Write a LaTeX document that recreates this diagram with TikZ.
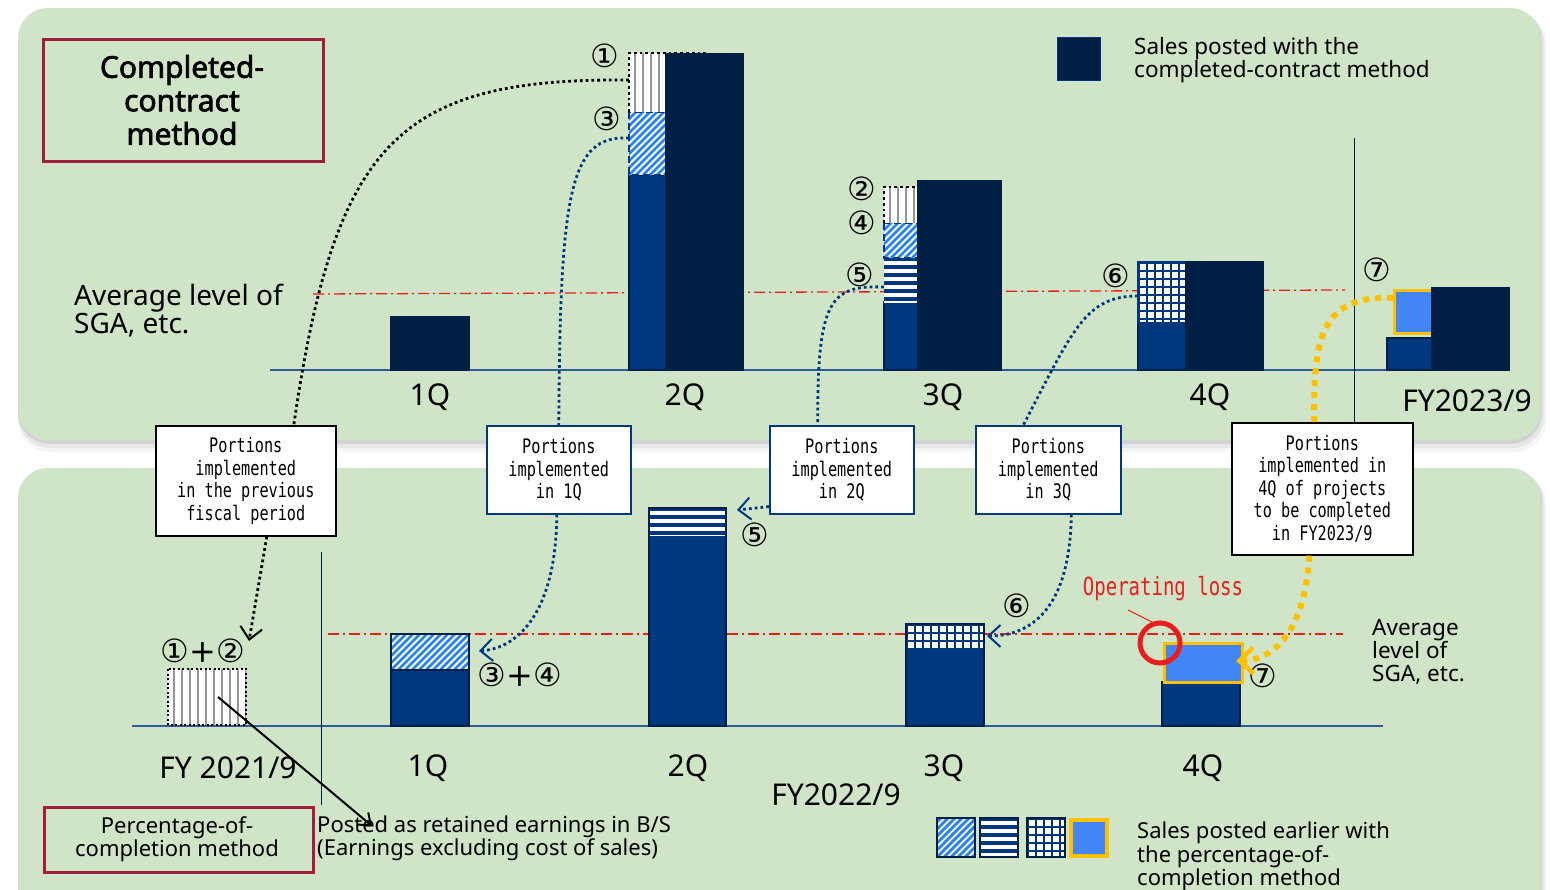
\documentclass[tikz,border=0pt]{standalone}
\usepackage{fontspec}
\setmainfont{Noto Sans}
\newfontfamily\tfont[FakeBold=2.2]{Noto Sans}
\newfontfamily\cfont{DejaVu Sans}
\newfontfamily\mfont[FakeStretch=0.76]{DejaVu Sans Mono}
\usetikzlibrary{arrows.meta}
\definecolor{navyD}{RGB}{0,31,68}
\definecolor{blueM}{RGB}{0,56,128}
\definecolor{lightB}{RGB}{66,133,244}
\definecolor{yel}{RGB}{255,192,0}
\definecolor{hatchblue}{RGB}{40,130,240}
\definecolor{stripegray}{RGB}{150,150,150}
\definecolor{panel}{RGB}{208,229,199}
\definecolor{redL}{RGB}{230,30,30}
\definecolor{darkred}{RGB}{160,30,60}
\definecolor{axisC}{RGB}{50,90,150}
\newcommand\vstripes[4]{%
 \begin{scope}
 \clip (#1,#2) rectangle (#3,#4);
 \fill[white] (#1,#2) rectangle (#3,#4);
 \foreach \i in {1,...,12}{\draw[stripegray, line width=1.6] ({#1+\i*8-2},#2) -- ({#1+\i*8-2},#4);}
 \end{scope}}
\newcommand\hatchd[4]{%
 \begin{scope}
 \clip (#1,#2) rectangle (#3,#4);
 \fill[white] (#1,#2) rectangle (#3,#4);
 \foreach \i in {-16,...,16}{\draw[hatchblue, line width=2.8] ({#1+\i*7},#4) -- ++(90,-90);}
 \end{scope}}
\newcommand\hstripes[4]{%
 \begin{scope}
 \clip (#1,#2) rectangle (#3,#4);
 \fill[blueM] (#1,#2) rectangle (#3,#4);
 \foreach \i in {0,...,8}{\draw[white, line width=3.5] (#1,{#2+5+\i*8}) -- (#3,{#2+5+\i*8});}
 \end{scope}}
\newcommand\gridp[4]{%
 \begin{scope}
 \clip (#1,#2) rectangle (#3,#4);
 \fill[white] (#1,#2) rectangle (#3,#4);
 \foreach \i in {0,...,12}{\draw[blueM, line width=2.2] ({#1+1+\i*8},#2) -- ({#1+1+\i*8},#4);
   \draw[blueM, line width=2.2] (#1,{#2+1+\i*8}) -- (#3,{#2+1+\i*8});}
 \end{scope}}
\tikzset{
  lbl/.style={font=\fontsize{30}{30}\selectfont, inner sep=0pt},
  sml/.style={font=\fontsize{22.5}{23}\selectfont, inner sep=0pt, align=left},
  circ/.style={font=\cfont\fontsize{32}{32}\selectfont, inner sep=0pt},
  pbox/.style={draw=black, line width=1.6pt, fill=white, font=\mfont\fontsize{20}{22.5}\selectfont,
     align=center, inner sep=0pt, anchor=north west},
  barb/.style={draw=navyD, line width=1.5pt},
  sgaline/.style={redL, line width=1.3pt, dash pattern=on 11pt off 4pt on 2pt off 4pt},
  dotk/.style={black, line width=2.8pt, dash pattern=on 2.8pt off 3pt},
  dotb/.style={blueM, line width=2.8pt, dash pattern=on 2.8pt off 3pt},
  doty/.style={yel, line width=6pt, dash pattern=on 6pt off 6pt},
  tipk/.style={-{Straight Barb[length=12pt,width=22pt,line width=2pt]}},
  tipy/.style={-{Straight Barb[length=14pt,width=26pt,line width=4.5pt]}},
  axis/.style={axisC, line width=1.6pt},
}
\begin{document}
\begin{tikzpicture}[x=1pt,y=-1pt]
\useasboundingbox (0,0) rectangle (1550,889);
\fill[white] (0,0) rectangle (1550,889);
% panels with soft shadows
\foreach \k/\o in {12/0.04,8/0.06,4/0.08}{
  \fill[black, opacity=\o, rounded corners=32pt] (18,{8+\k/3}) rectangle ({1540+\k/2},{440+\k});
  \fill[black, opacity=\o, rounded corners=32pt] (18,{468+\k/3}) rectangle ({1540+\k/2},{940});
}
\fill[panel, rounded corners=30pt] (18,8) rectangle (1540,440);
\fill[panel, rounded corners=30pt] (18,468) rectangle (1540,940);

% ===== top panel =====
\node[draw=darkred, line width=3pt, minimum width=280pt, minimum height=122pt, anchor=north west,
      inner sep=0pt] (ccm) at (42,38) {};
\node[font=\tfont\fontsize{30}{33.5}\selectfont, align=center] (ccmt) at (182,100) {Completed-\\contract\\method};

\fill[navyD] (1057,37) rectangle (1100,80);
\draw[blueM, line width=1pt] (1057,37) rectangle (1100,80);
\node[sml, anchor=north west] (leg1) at (1134,37) {Sales posted with the\\completed-contract method};

\node[lbl, font=\fontsize{28}{28}\selectfont, anchor=west, align=left] (avg1) at (74,311) {Average level of\\SGA, etc.};

\draw[axis] (270,370) -- (1510,370);
\draw[navyD, line width=1pt] (1354,138) -- (1354,422);
\draw[sgaline] (313,294) -- (1345,290);

% 1Q
\filldraw[fill=navyD, barb] (391,317) rectangle (469,370);
% 2Q
\filldraw[fill=blueM, barb] (629,175) rectangle (666,370);
\hatchd{629}{112}{666}{175}
\draw[blueM, line width=2pt, dash pattern=on 7pt off 4pt] (629,112) rectangle (666,175);
\vstripes{629}{53}{666}{112}
\draw[dotk] (629,112) -- (629,53) -- (708,53);
\filldraw[fill=navyD, barb] (666,54) rectangle (743,370);
% 3Q
\filldraw[fill=blueM, barb] (884,302) rectangle (918,370);
\hstripes{884}{258}{918}{302}
\hatchd{884}{223}{918}{258}
\draw[blueM, line width=2pt, dash pattern=on 7pt off 4pt] (884,223) rectangle (918,258);
\vstripes{884}{187}{918}{223}
\draw[dotk] (884,223) -- (884,187) -- (918,187);
\filldraw[fill=navyD, barb] (918,181) rectangle (1001,370);
% 4Q
\filldraw[fill=blueM, barb] (1138,323) rectangle (1186,370);
\gridp{1138}{262}{1186}{323}
\draw[blueM, line width=1.5pt] (1138,262) rectangle (1186,323);
\filldraw[fill=navyD, barb] (1186,262) rectangle (1263,370);
% FY2023/9
\filldraw[fill=blueM, barb] (1387,338) rectangle (1432,370);
\filldraw[fill=lightB, draw=yel, line width=3pt] (1394,290) rectangle (1432,333);
\filldraw[fill=navyD, barb] (1432,288) rectangle (1509,370);

\node[lbl] (q1t) at (430,397) {1Q};
\node[lbl] (q2t) at (685,397) {2Q};
\node[lbl] (q3t) at (943,397) {3Q};
\node[lbl] (q4t) at (1210,397) {4Q};
\node[lbl] (fy23) at (1467,401) {FY2023/9};

\node[circ] (n1) at (605,56) {①};
\node[circ] (n3) at (607,119) {③};
\node[circ] (n2) at (862,189) {②};
\node[circ] (n4) at (862,223) {④};
\node[circ] (n5) at (860,275) {⑤};
\node[circ] (n6) at (1116,276) {⑥};
\node[circ] (n7) at (1377,270) {⑦};

% ===== bottom panel =====
\draw[axis] (132,726) -- (1383,726);
\draw[navyD, line width=1pt] (321,552) -- (321,805);
\draw[sgaline] (328,634) -- (1343,634);

\vstripes{168}{669}{246}{725}
\draw[dotk, line width=2pt, dash pattern=on 2pt off 2.5pt] (168,669) rectangle (246,725);
\filldraw[fill=blueM, barb] (391,670) rectangle (469,726);
\hatchd{391}{634}{469}{670}
\draw[barb] (391,634) rectangle (469,670);
\filldraw[fill=blueM, barb] (649,508) rectangle (726,726);
\hstripes{649}{508}{726}{535}
\draw[barb] (649,508) rectangle (726,726);
\filldraw[fill=blueM, barb] (906,624) rectangle (984,726);
\gridp{906}{624}{984}{650}
\draw[barb] (906,624) rectangle (984,726);
\filldraw[fill=blueM, barb] (1162,682) rectangle (1240,726);
\filldraw[fill=lightB, draw=yel, line width=3pt] (1164,643) rectangle (1242,682);

\node[circ] (n12) at (203,651) {①+②};
\node[circ] (n34) at (520,675) {③+④};
\node[circ] (m5) at (755,535) {⑤};
\node[circ] (m6) at (1017,606) {⑥};
\node[circ] (m7) at (1263,676) {⑦};

\draw[redL, line width=5pt] (1160,643) circle (20);
\draw[redL, line width=1pt] (1128,610) -- (1152,622);
\node[font=\mfont\fontsize{25}{27}\selectfont, text=redL, inner sep=0pt] (oploss) at (1163,589) {Operating loss};

\node[sml, anchor=north west] (avg2) at (1372,619) {Average\\level of\\SGA, etc.};

\node[lbl] (fy21) at (228,768) {FY 2021/9};
\node[lbl] (q1b) at (428,768) {1Q};
\node[lbl] (q2b) at (688,768) {2Q};
\node[lbl] (q3b) at (944,768) {3Q};
\node[lbl] (q4b) at (1203,768) {4Q};
\node[lbl] (fy22) at (836,795) {FY2022/9};

\node[draw=darkred, line width=3pt, minimum width=269pt, minimum height=65pt, anchor=north west,
      inner sep=0pt] (pcm) at (43,806) {};
\node[sml, align=center, font=\fontsize{22}{23}\selectfont] (pcmt) at (177,839) {Percentage-of-\\completion method};
\node[sml, anchor=west, font=\fontsize{22}{22}\selectfont] (ret) at (317,838) {Posted as retained earnings in B/S\\(Earnings excluding cost of sales)};

\hatchd{937}{818}{975}{857}
\draw[navyD, line width=2.5pt] (937,818) rectangle (975,857);
\hstripes{980}{818}{1018}{857}
\draw[navyD, line width=2.5pt] (980,818) rectangle (1018,857);
\gridp{1027}{818}{1065}{857}
\draw[navyD, line width=2.5pt] (1027,818) rectangle (1065,857);
\filldraw[fill=lightB, draw=yel, line width=3.5pt] (1071,820) rectangle (1107,856);
\node[sml, anchor=north west, font=\fontsize{22}{21}\selectfont] (leg2) at (1137,822) {Sales posted earlier with\\the percentage-of-\\completion method};

% ===== named connector end points =====
\coordinate (s1) at (629,80);
\coordinate (s3) at (629,138);
\coordinate (s5) at (884,287);
\coordinate (s6) at (1138,296);
\coordinate (s7) at (1393,298);
\coordinate (t12) at (249,641);
\coordinate (t34) at (479,651);
\coordinate (t5) at (737,510);
\coordinate (t6) at (987,636);
\coordinate (t7) at (1236,661);
\coordinate (p12) at (218,697);
\coordinate (pret) at (372,826);

% ===== boxes =====
\node[pbox, minimum width=180pt, minimum height=110pt] (bA) at (155,425) {Portions\\implemented\\in the previous\\fiscal period};
\node[pbox, draw=blueM, minimum width=144pt, minimum height=88pt] (bB) at (486,425) {Portions\\implemented\\in 1Q};
\node[pbox, draw=blueM, minimum width=144pt, minimum height=88pt] (bC) at (769,425) {Portions\\implemented\\in 2Q};
\node[pbox, draw=blueM, minimum width=145pt, minimum height=88pt] (bD) at (975,425) {Portions\\implemented\\in 3Q};
\node[pbox, minimum width=181pt, minimum height=132pt] (bE) at (1231,422) {Portions\\implemented in\\4Q of projects\\to be completed\\in FY2023/9};

% ===== connectors =====
\draw[dotk] (s1) .. controls (400,78) and (335,140) .. ([xshift=48pt]bA.north);
\draw[dotk, tipk] ([xshift=21pt]bA.south) -- (t12);
\draw[dotb] (s3) .. controls (570,135) and (560,190) .. (bB.north);
\draw[dotb, tipk, blueM] ([xshift=-2pt]bB.south) .. controls (556,610) and (520,648) .. (t34);
\draw[dotb] (s5) .. controls (830,285) and (817,300) .. ([xshift=-24pt]bC.north);
\draw[dotb, tipk, blueM] ([yshift=8pt]bC.south west) -- (t5);
\draw[dotb] (s6) .. controls (1085,296) and (1073,330) .. ([xshift=-25pt]bD.north);
\draw[dotb, tipk, blueM] ([xshift=23pt]bD.south) .. controls (1070,610) and (1030,636) .. (t6);
\draw[doty] (s7) .. controls (1320,295) and (1313,340) .. ([xshift=-8pt]bE.north);
\draw[doty, tipy] ([xshift=-13pt]bE.south) .. controls (1305,630) and (1275,660) .. (t7);
\draw[black, line width=2pt, -{Straight Barb[length=10pt,width=16pt,line width=2pt]}] (p12) -- (pret);
\end{tikzpicture}
\end{document}
